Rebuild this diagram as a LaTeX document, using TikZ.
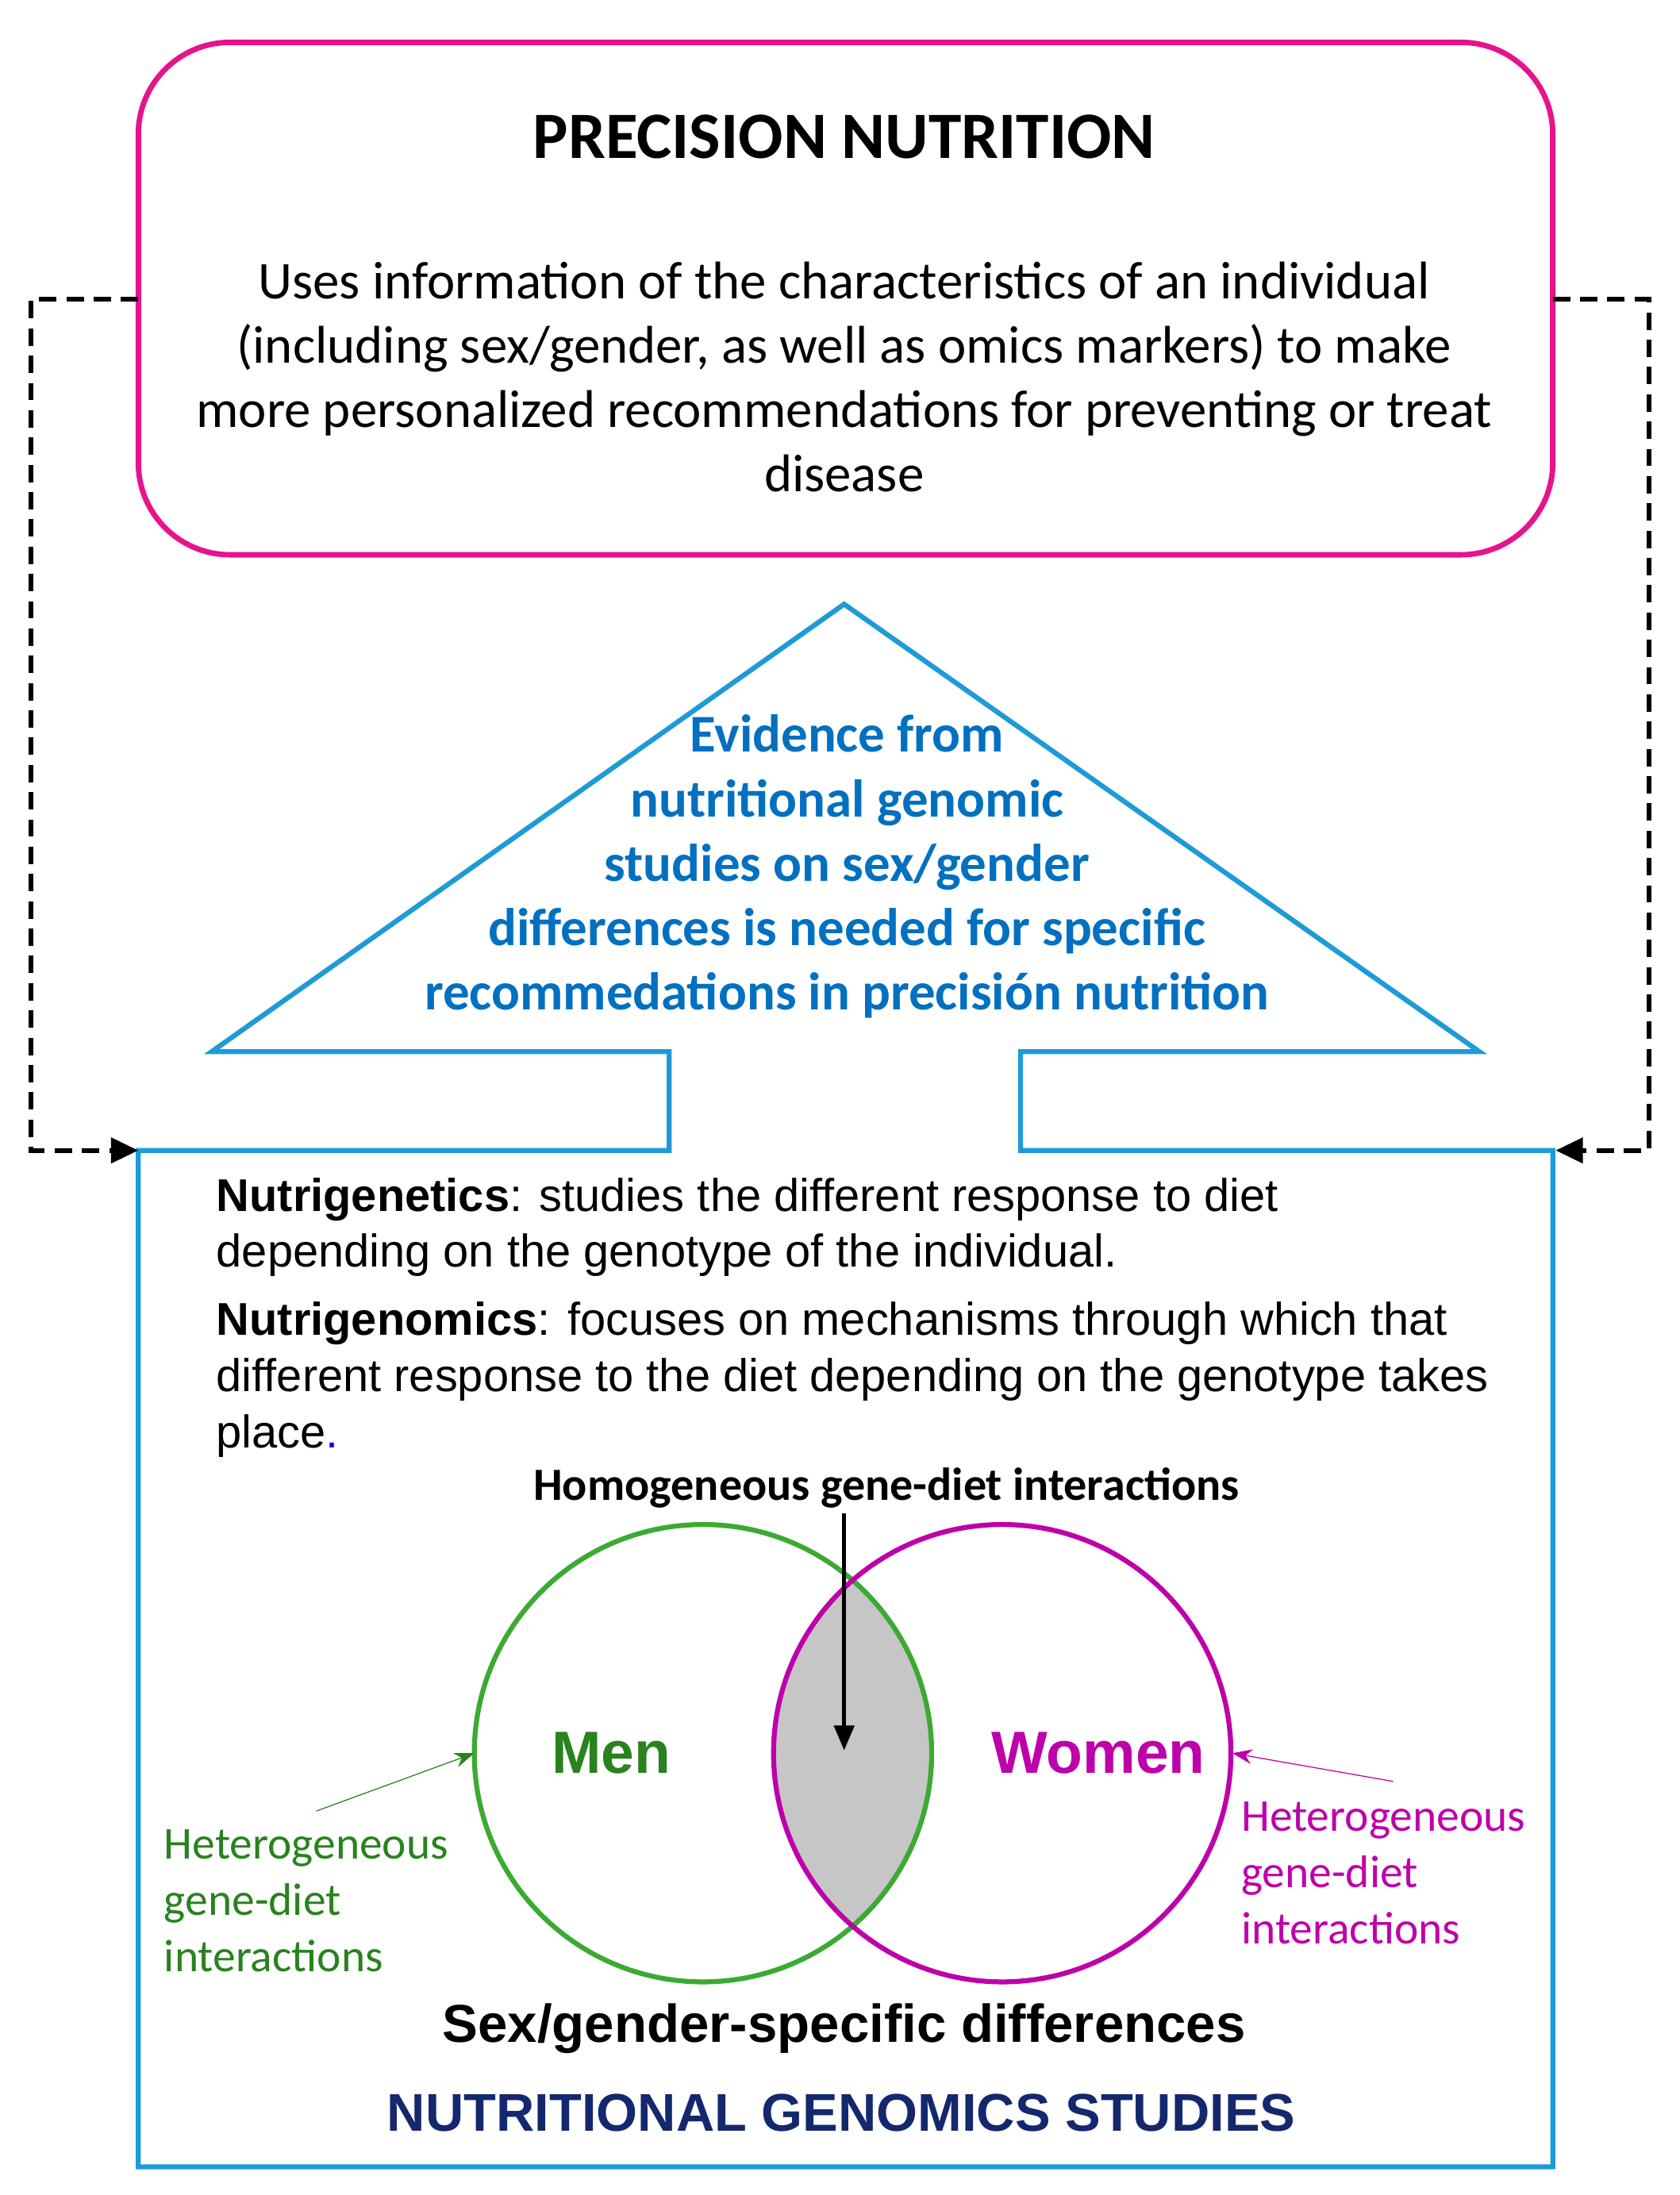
\documentclass[tikz,border=0pt]{standalone}
\usepackage{fontspec}
\setmainfont{Carlito}
\newfontfamily\arialfont{Liberation Sans}
\usetikzlibrary{arrows.meta}
\definecolor{pnpink}{RGB}{230,20,140}
\definecolor{pnblue}{RGB}{30,155,215}
\definecolor{pntext}{RGB}{0,112,192}
\definecolor{pngreen}{RGB}{60,170,50}
\definecolor{pndkgreen}{RGB}{40,130,30}
\definecolor{pnmag}{RGB}{190,0,170}
\definecolor{pnnavy}{RGB}{20,40,110}
\tikzset{
    body/.style={font=\fontsize{21.4}{26}\selectfont, align=center},
    arial/.style={font=\arialfont\fontsize{18.5}{22.7}\selectfont, align=left, anchor=north west, inner sep=0pt},
    hetero/.style={font=\fontsize{18.4}{22.7}\selectfont, align=left, anchor=north west, inner sep=0pt},
    dashlink/.style={line width=2pt, dash pattern=on 7pt off 4pt, -{Triangle[length=11pt,width=10pt]}}
}
\begin{document}
\begin{tikzpicture}[x=0.02cm,y=-0.02cm]
\useasboundingbox (0,0) rectangle (1190,1555);
% precision nutrition box
\draw[pnpink, line width=2.2pt, rounded corners=1.3cm] (98,30) rectangle (1100,393);
\node[font=\bfseries\fontsize{26.7}{30}\selectfont] (title) at (598,97) {PRECISION NUTRITION};
\node[body] (uses) at (598,267) {Uses information of the characteristics of an individual\\
(including sex/gender, as well as omics markers) to make\\
more personalized recommendations for preventing or treat\\ disease};
% arrow shaped frame
\draw[pnblue, line width=2pt] (98,815) -- (474,815) -- (474,745) -- (150,745) -- (598,428)
    -- (1048,745) -- (723,745) -- (723,815) -- (1100,815) -- (1100,1535) -- (98,1535) -- cycle;
\node[body, text=pntext, font=\bfseries\fontsize{21.4}{26}\selectfont] (evidence) at (600,614)
    {Evidence from\\ nutritional genomic\\ studies on sex/gender\\
    differences is needed for specific\\ recommedations in precisión nutrition};
% dashed links
\coordinate (pl) at (98,212);
\coordinate (pr) at (1100,212);
\coordinate (bl) at (98,815);
\coordinate (br) at (1102,815);
\draw[dashlink] (pl) -- (22,212) -- (22,815) -- (bl);
\draw[dashlink] (pr) -- (1168,212) -- (1168,815) -- (br);
% definitions
\node[arial] (genet) at (153,834) {\textbf{Nutrigenetics}: studies the different response to diet\\
depending on the genotype of the individual.};
\node[arial] (genom) at (153,922) {\textbf{Nutrigenomics}: focuses on mechanisms through which that\\
different response to the diet depending on the genotype takes\\ place{\color{blue}.}};
% venn
\node[font=\bfseries\fontsize{18.6}{20}\selectfont] (homog) at (628,1054) {Homogeneous gene-diet interactions};
\begin{scope}
  \clip (498,1242) circle[radius=162];
  \fill[gray!45] (710,1242) circle[radius=162];
\end{scope}
\draw[pngreen, line width=2pt] (498,1242) circle[radius=162];
\draw[pnmag, line width=2pt] (710,1242) circle[radius=162];
\coordinate (mleft) at (336,1242);
\coordinate (wright) at (873,1242);
\coordinate (mid) at (598,1240);
\draw[line width=1.6pt, -{Triangle[length=10pt,width=8pt]}] (598,1072) -- (mid);
\node[text=pndkgreen, font=\arialfont\bfseries\fontsize{24}{28}\selectfont] (men) at (433,1242) {Men};
\node[text=pnmag, font=\arialfont\bfseries\fontsize{24}{28}\selectfont] (women) at (778,1242) {Women};
\node[hetero, text=pndkgreen] (hmen) at (116,1296) {Heterogeneous\\ gene-diet\\ interactions};
\node[hetero, text=pnmag] (hwomen) at (879,1276) {Heterogeneous\\ gene-diet\\ interactions};
\draw[pndkgreen, -{Stealth[length=8pt]}] (224,1283) -- (mleft);
\draw[pnmag, -{Stealth[length=8pt]}] (987,1262) -- (wright);
\node[font=\arialfont\bfseries\fontsize{21.5}{24}\selectfont] (sexdiff) at (598,1437) {Sex/gender-specific differences};
\node[text=pnnavy, font=\arialfont\bfseries\fontsize{21.4}{24}\selectfont] (ngs) at (596,1497) {NUTRITIONAL GENOMICS STUDIES};
\end{tikzpicture}
\end{document}
